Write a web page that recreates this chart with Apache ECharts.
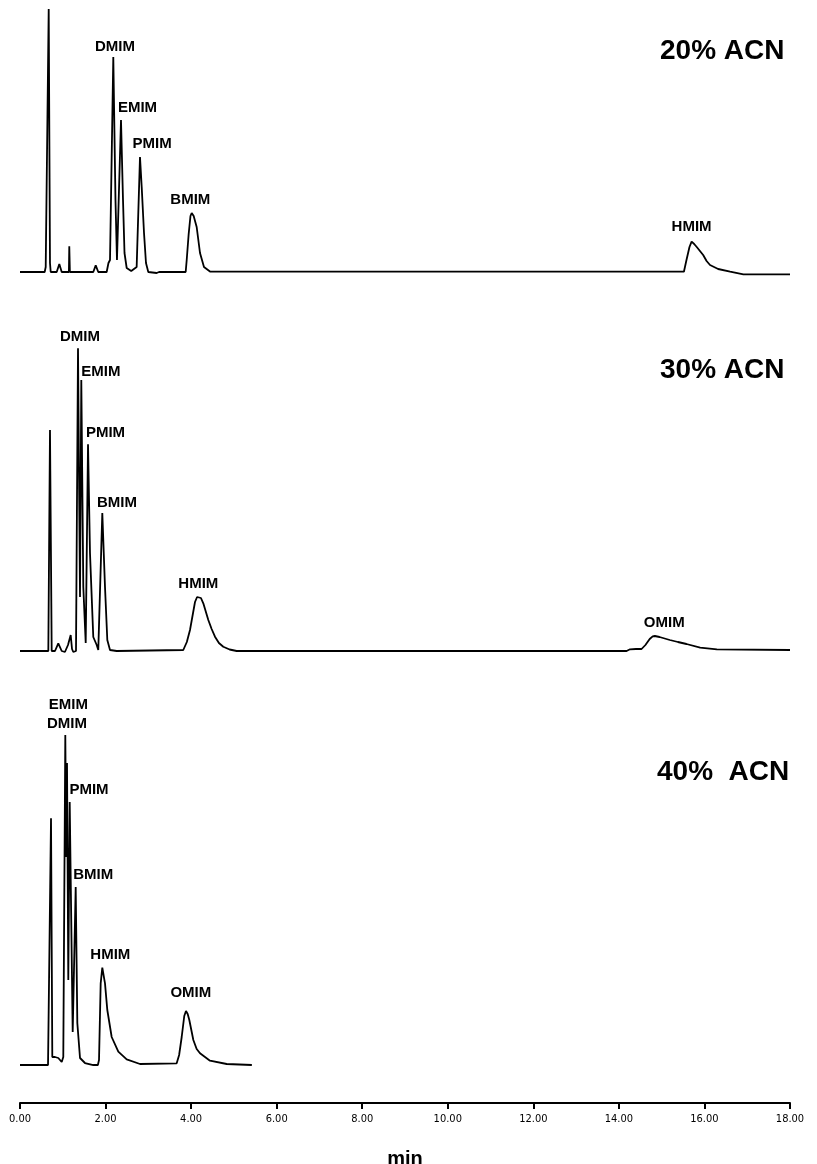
<!DOCTYPE html>
<html>
<head>
<meta charset="utf-8">
<script src="https://cdn.jsdelivr.net/npm/echarts@6/dist/echarts.min.js"></script>
<style>
  html, body { margin: 0; padding: 0; background: #fff; }
  #chart { width: 817px; height: 1164px; }
</style>
</head>
<body>
<div id="chart"></div>
<script>
// ---- Data (time in min, detector response in arbitrary units) ----
const xTicks = [0, 2, 4, 6, 8, 10, 12, 14, 16, 18];
const panelTitles = ['20% ACN', '30% ACN', '40%  ACN'];

const trace20 = [
  [0,0],[0.577,0],[0.601,5],[0.671,263],[0.701,9],[0.718,0],[0.858,0],[0.919,8],[0.975,0],
  [1.143,0],[1.152,25.7],[1.166,0],[1.713,0],[1.770,6.6],[1.830,0],[2.026,0],[2.064,0],[2.068,9],
  [2.104,12],[2.181,215],[2.232,72],[2.267,12],[2.290,14],[2.361,152],[2.408,72],[2.443,19],
  [2.494,4],[2.60,1],[2.727,5],[2.805,115],[2.845,85],[2.899,39],[2.945,9],[2.999,0],[3.195,-1],
  [3.25,0],[3.873,0],[3.897,12],[3.943,38],[3.985,56],[4.014,59],[4.06,56],[4.130,45],[4.208,19],
  [4.301,5],[4.441,0.5],
  [15.52,0.3],[15.58,12],[15.65,25],[15.70,30.3],[15.76,28],[15.82,25],[15.97,17],[16.05,11],
  [16.13,7],[16.32,3],[16.60,0.3],[16.91,-2.3],[18,-2.3]
];
const trace30 = [
  [0,0],[0.662,0],[0.701,221],[0.741,0],[0.818,0],[0.895,7.7],[0.975,0],[1.05,-1],[1.092,-2],
  [1.122,6],[1.185,16],[1.216,2],[1.246,-1],[1.286,0],[1.309,0],[1.356,302.7],[1.403,54],
  [1.433,271],[1.480,64],[1.536,8],[1.590,206.7],[1.636,98],[1.713,14],[1.793,6],[1.830,1],
  [1.870,1],[1.924,138],[1.987,64],[2.041,11],[2.104,1],[2.26,0],[3.817,1],[3.90,9],[3.974,21],
  [4.091,49],[4.14,54],[4.184,55],[4.23,53],[4.285,47.7],[4.402,31],[4.48,22],[4.558,14.3],
  [4.65,8],[4.752,4.3],[4.90,1.5],[5.065,0],[14.18,0],[14.26,1.7],[14.40,2],[14.53,2],
  [14.62,6],[14.72,12],[14.79,14.6],[14.84,15],[14.95,14],[15.19,11],[15.38,9],[15.58,7],
  [15.90,3.3],[16.29,1.7],[18,1]
];
const trace40 = [
  [0,0],[0.655,0],[0.678,1],[0.725,246.7],[0.755,8],[0.818,8],[0.895,7],[0.975,3],[0.998,1],
  [1.012,8],[1.059,330],[1.082,208],[1.099,302],[1.129,85],[1.162,263],[1.232,33],[1.302,178],
  [1.340,42],[1.403,7],[1.519,2],[1.713,0],[1.820,0],[1.847,5],[1.886,81.7],[1.924,97.3],
  [1.987,81.7],[2.041,55],[2.143,28],[2.298,13.3],[2.494,5.7],[2.805,1],[3.663,1.7],[3.72,10],
  [3.780,28],[3.84,49],[3.880,54],[3.92,51],[3.958,45],[4.052,25],[4.13,16],[4.208,11.7],
  [4.441,4.3],[4.832,1],[5.42,0]
];

// peak annotations: [name, time, response]
const peaks20 = [['DMIM',2.221,225.3],['EMIM',2.747,164],['PMIM',3.090,128],['BMIM',3.981,72],['HMIM',15.70,45.3]];
const peaks30 = [['DMIM',1.403,314.3],['EMIM',1.889,279.3],['PMIM',1.999,217.7],['BMIM',2.267,148.3],['HMIM',4.168,66.7],['OMIM',15.06,28.3]];
const peaks40 = [['EMIM',1.129,360],['DMIM',1.099,341],['PMIM',1.613,275],['BMIM',1.713,190],['HMIM',2.111,110],['OMIM',3.993,71.7]];

// ---- Chart ----
const chart = echarts.init(document.getElementById('chart'), null, { renderer: 'canvas' });
const FONT = "'Liberation Sans', Arial, Helvetica, sans-serif";
const NARROW = "'Liberation Sans Narrow', 'Arial Narrow', 'DejaVu Sans Condensed', 'Liberation Sans', sans-serif";

function peakMarks(peaks) {
  return {
    symbol: 'rect',
    symbolSize: 1,
    itemStyle: { color: 'transparent' },
    label: {
      show: true, position: 'inside', color: '#000',
      fontFamily: FONT, fontWeight: 'bold', fontSize: 15,
      formatter: p => p.name
    },
    data: peaks.map(p => ({ name: p[0], coord: [p[1], p[2]] }))
  };
}

const traces = [trace20, trace30, trace40];
const peakSets = [peaks20, peaks30, peaks40];
const gridDefs = [
  { top: 0, height: 282, ymin: -10, ymax: 272 },
  { top: 321, height: 340, ymin: -10, ymax: 330 },
  { top: 695, height: 408, ymin: -38, ymax: 370 }
];
const titleTops = [37, 356, 758];
const titleLefts = [660, 660, 657];

const option = {
  animation: false,
  backgroundColor: '#fff',
  title: panelTitles.map((t, i) => ({
    text: t, left: titleLefts[i], top: titleTops[i], padding: 0,
    textStyle: { fontFamily: FONT, fontWeight: 'bold', fontSize: 28, color: '#000' }
  })),
  grid: gridDefs.map(g => ({
    left: 20, right: 27, top: g.top, height: g.height,
    containLabel: false, outerBoundsMode: 'none'
  })),
  xAxis: gridDefs.map((g, i) => {
    const base = { type: 'value', gridIndex: i, min: xTicks[0], max: xTicks[xTicks.length - 1], interval: 2 };
    if (i < 2) return Object.assign(base, { show: false });
    return Object.assign(base, {
      show: true,
      position: 'bottom',
      splitLine: { show: false },
      axisLine: { show: true, onZero: false, lineStyle: { color: '#000', width: 2 } },
      axisTick: { show: true, length: 6, lineStyle: { color: '#000', width: 2 } },
      axisLabel: { show: true, color: '#000', fontSize: 11, fontFamily: NARROW, margin: 11,
                   formatter: v => v.toFixed(2) },
      name: 'min', nameLocation: 'middle', nameGap: 46,
      nameTextStyle: { fontFamily: FONT, fontWeight: 'bold', fontSize: 20, color: '#000' }
    });
  }),
  yAxis: gridDefs.map((g, i) => ({
    type: 'value', gridIndex: i, min: g.ymin, max: g.ymax, show: false, splitLine: { show: false }
  })),
  series: traces.map((d, i) => ({
    type: 'line', xAxisIndex: i, yAxisIndex: i, data: d,
    showSymbol: false, symbol: 'none', smooth: false, clip: false,
    lineStyle: { color: '#000', width: 1.8 },
    markPoint: peakMarks(peakSets[i])
  }))
};
chart.setOption(option);
</script>
</body>
</html>
